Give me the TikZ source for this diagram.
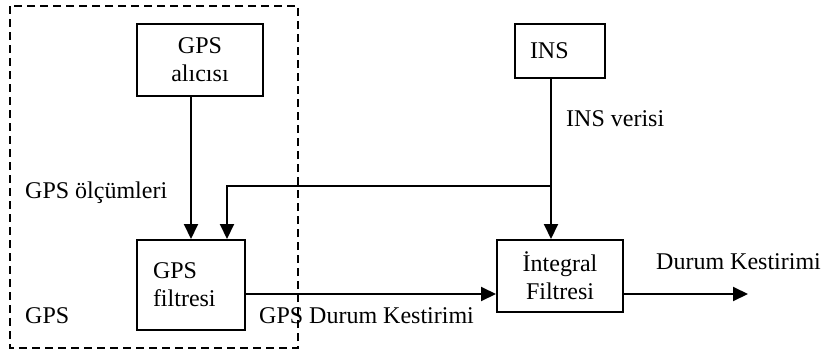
\documentclass[tikz,border=0pt]{standalone}
\usepackage{fontspec}
\setmainfont{Liberation Serif}
\usetikzlibrary{arrows.meta,calc}
\begin{document}
\begin{tikzpicture}[x=1pt,y=1pt,
  font=\fontsize{24}{28}\selectfont,
  blk/.style={draw,line width=2pt,inner sep=0pt,align=center},
  arr/.style={line width=2pt,-{Triangle[length=15pt,width=14pt]}},
  lab/.style={anchor=base west,inner sep=0pt}]
\path[use as bounding box,fill=white] (0,0) rectangle (822,-351);
% dashed GPS region
\draw[line width=2pt,dash pattern=on 8pt off 5pt] (10,-6) rectangle (298,-348);
% blocks
\node[blk,minimum width=126pt,minimum height=72pt] (alici) at (200,-60) {GPS\\alıcısı};
\node[blk,minimum width=108pt,minimum height=90pt,align=left,text width=76pt,inner xsep=16pt] (filt) at (191,-285) {GPS\\filtresi};
\node[blk,minimum width=90pt,minimum height=54pt,align=left,text width=60pt,inner xsep=15pt] (ins) at (560,-51) {INS};
\node[blk,minimum width=126pt,minimum height=72pt] (integ) at (560,-276) {İntegral\\Filtresi};
% helper coordinates
\coordinate (j) at (551,-186);
\coordinate (h) at (0,-294);
\coordinate (fb) at (227,0);
\coordinate (out) at (748,-294);
% connectors
\draw[arr] (alici.south -| filt.north) -- (filt.north);
\draw[line width=2pt] (ins.south -| j) -- (j);
\draw[arr] (j) -- (integ.north -| j);
\draw[arr] (j) -| (filt.north -| fb);
\draw[arr] (filt.east |- h) -- (integ.west |- h);
\draw[arr] (integ.east |- h) -- (out);
% labels
\node[lab] (l1) at (25,-198) {GPS ölçümleri};
\node[lab] (l2) at (25,-323) {GPS};
\node[lab] (l3) at (259,-323) {GPS Durum Kestirimi};
\node[lab] (l4) at (566,-126) {INS verisi};
\node[lab] (l5) at (656,-269) {Durum Kestirimi};
\end{tikzpicture}
\end{document}
